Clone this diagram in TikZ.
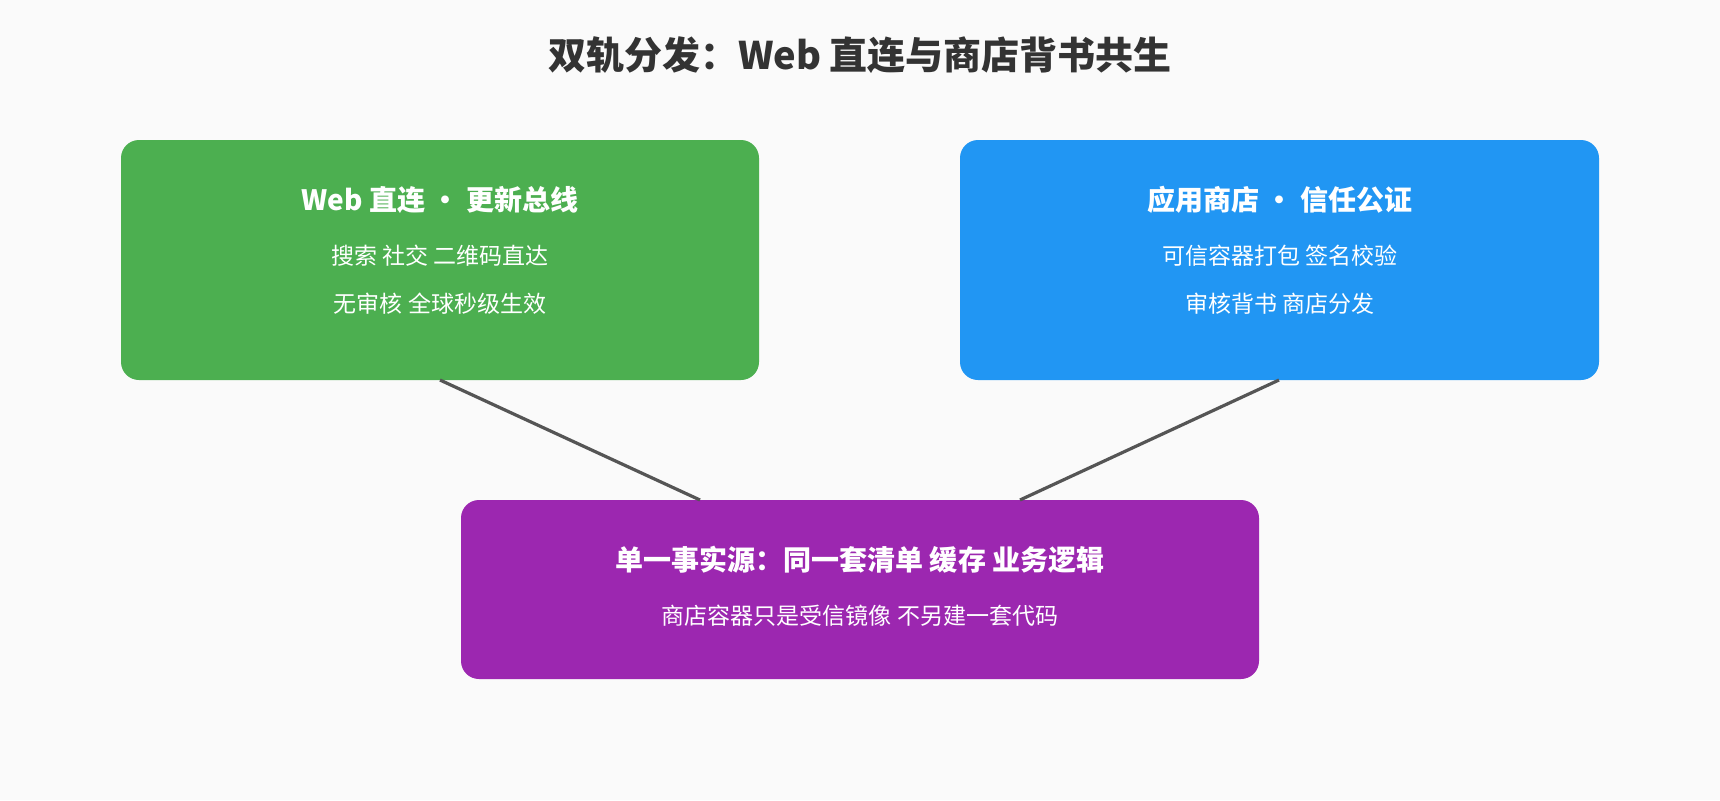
\documentclass[tikz,border=0pt]{standalone}
\usepackage{fontspec}
\setmainfont{Noto Sans CJK SC}
\definecolor{bg}{HTML}{FAFAFA}
\definecolor{g}{HTML}{4CAF50}
\definecolor{b}{HTML}{2196F3}
\definecolor{p}{HTML}{9C27B0}
\definecolor{ln}{HTML}{555555}
\definecolor{tt}{HTML}{333333}
\begin{document}
\begin{tikzpicture}[x=0.5pt,y=-0.5pt,
 box/.style={rounded corners=9pt,draw=none},
 hd/.style={text=white,font=\bfseries\fontsize{14}{16}\selectfont,anchor=center},
 tx/.style={text=white,font=\fontsize{11.5}{14}\selectfont,anchor=center},
 conn/.style={draw=ln,line width=1.6pt}]
\fill[bg] (0,0) rectangle (1720,800);
\useasboundingbox (0,0) rectangle (1720,800);
\node[text=tt,font=\bfseries\fontsize{19}{22}\selectfont] (title) at (860,55) {双轨分发：Web 直连与商店背书共生};
\fill[g,box] (121,140) rectangle (759,380);
\fill[b,box] (960,140) rectangle (1599,380);
\fill[p,box] (461,500) rectangle (1259,679);
\node[hd] (gh) at (440,200) {Web 直连 • 更新总线};
\node[tx] (g1) at (440,256) {搜索 社交 二维码直达};
\node[tx] (g2) at (440,304) {无审核 全球秒级生效};
\node[hd] (bh) at (1280,200) {应用商店 • 信任公证};
\node[tx] (b1) at (1280,256) {可信容器打包 签名校验};
\node[tx] (b2) at (1280,304) {审核背书 商店分发};
\node[hd] (ph) at (860,560) {单一事实源：同一套清单 缓存 业务逻辑};
\node[tx] (p1) at (860,616) {商店容器只是受信镜像 不另建一套代码};
\coordinate (ga) at (440,380); \coordinate (pa) at (700,500);
\coordinate (ba) at (1279,380); \coordinate (pb) at (1020,500);
\draw[conn] (ga) -- (pa);
\draw[conn] (ba) -- (pb);
\end{tikzpicture}
\end{document}
